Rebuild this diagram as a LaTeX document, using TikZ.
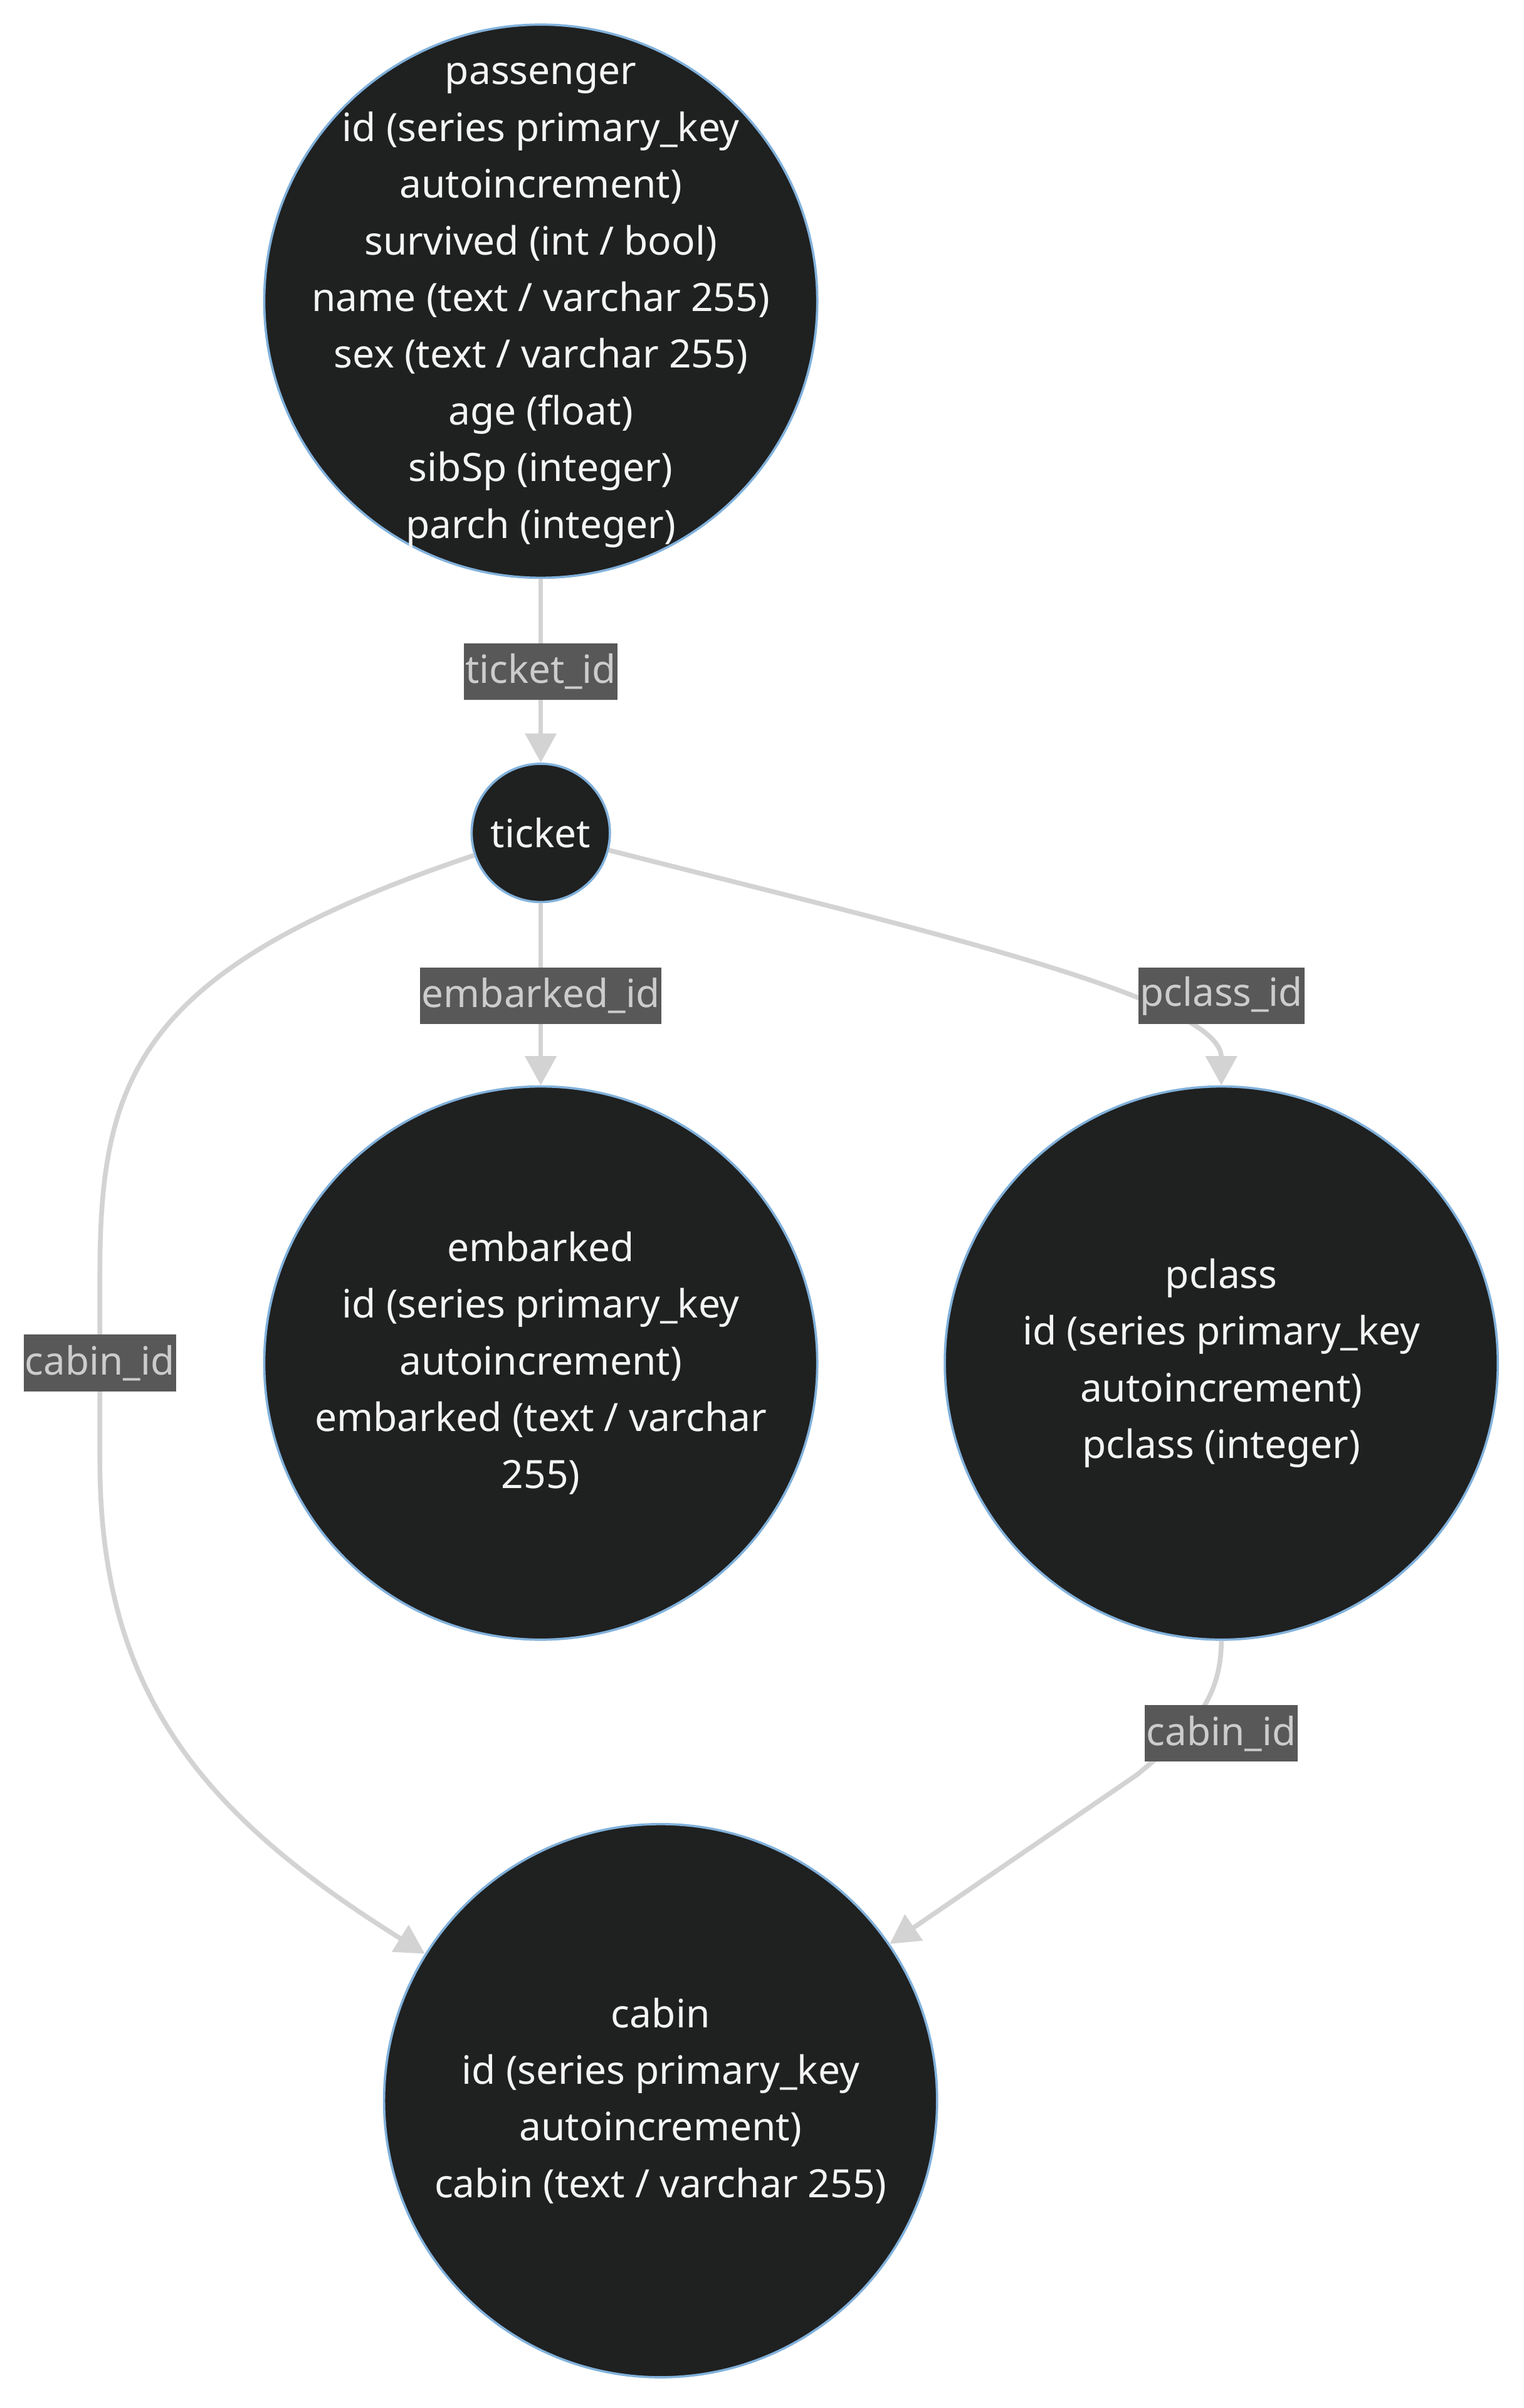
\documentclass[tikz,border=0pt]{standalone}
\usepackage{fontspec}
\setmainfont{Noto Sans}
\usetikzlibrary{arrows.meta}

\definecolor{entityfill}{HTML}{1F2020}
\definecolor{entityline}{HTML}{81B1DB}
\definecolor{entitytext}{HTML}{F4F4F4}
\definecolor{linkcolor}{HTML}{D3D3D3}
\definecolor{keyfill}{HTML}{585858}
\definecolor{keytext}{HTML}{CCCCCC}

\tikzset{
  entity/.style={circle, draw=entityline, line width=1.5pt, fill=entityfill, text=entitytext,
    minimum size=360pt, inner sep=-50pt, align=center, font=\fontsize{25.4}{36.9}\selectfont},
  link/.style={draw=linkcolor, line width=3.1pt, -{Triangle[length=19pt,width=20pt]}},
  keylabel/.style={fill=keyfill, text=keytext, inner xsep=1pt, inner ysep=0pt,
    minimum height=36.9pt, font=\fontsize{25.3}{36.9}\selectfont}
}

\begin{document}
\begin{tikzpicture}[x=1pt,y=1pt,yscale=-1,xscale=1]
\useasboundingbox (0,0) rectangle (992,1567);

%Shape: Circle [passenger]
\node [entity] (passenger) at (352,196) {passenger\vphantom{d}\\id (series primary\_key\\autoincrement)\\survived (int / bool)\\name (text / varchar 255)\\sex (text / varchar 255)\\age (float)\\sibSp (integer)\\parch (integer)};
%Shape: Circle [ticket]
\node [entity, minimum size=90pt, inner sep=0pt] (ticket) at (352,542) {ticket};
%Shape: Circle [embarked]
\node [entity] (embarked) at (352,887) {embarked\\id (series primary\_key\\autoincrement)\\embarked (text / varchar\\255)};
%Shape: Circle [pclass]
\node [entity] (pclass) at (795,887) {pclass\\id (series primary\_key\\autoincrement)\\pclass (integer)};
%Shape: Circle [cabin]
\node [entity] (cabin) at (430,1367) {cabin\\id (series primary\_key\\autoincrement)\\cabin (text / varchar 255)};

%Straight Lines
\draw [link] (passenger) -- (ticket);
\draw [link] (ticket) -- (embarked);
%Curve Lines
\draw [link] (ticket) .. controls (600,605) and (795,650) .. (pclass);
\draw [link] (ticket) .. controls (90,630) and (65,700) .. (65,830) -- (65,950) .. controls (65,1100) and (130,1180) .. (cabin);
\draw [link] (pclass) .. controls (795,1110) and (770,1130) .. (740,1155) -- (cabin);

% Text Node
\node [keylabel] (k1) at (352,437) {ticket\_id};
% Text Node
\node [keylabel] (k2) at (352,648) {embarked\_id};
% Text Node
\node [keylabel] (k3) at (795,648) {pclass\_id};
% Text Node
\node [keylabel] (k4) at (65,887) {cabin\_id};
% Text Node
\node [keylabel] (k5) at (795,1128) {cabin\_id};

\end{tikzpicture}
\end{document}
